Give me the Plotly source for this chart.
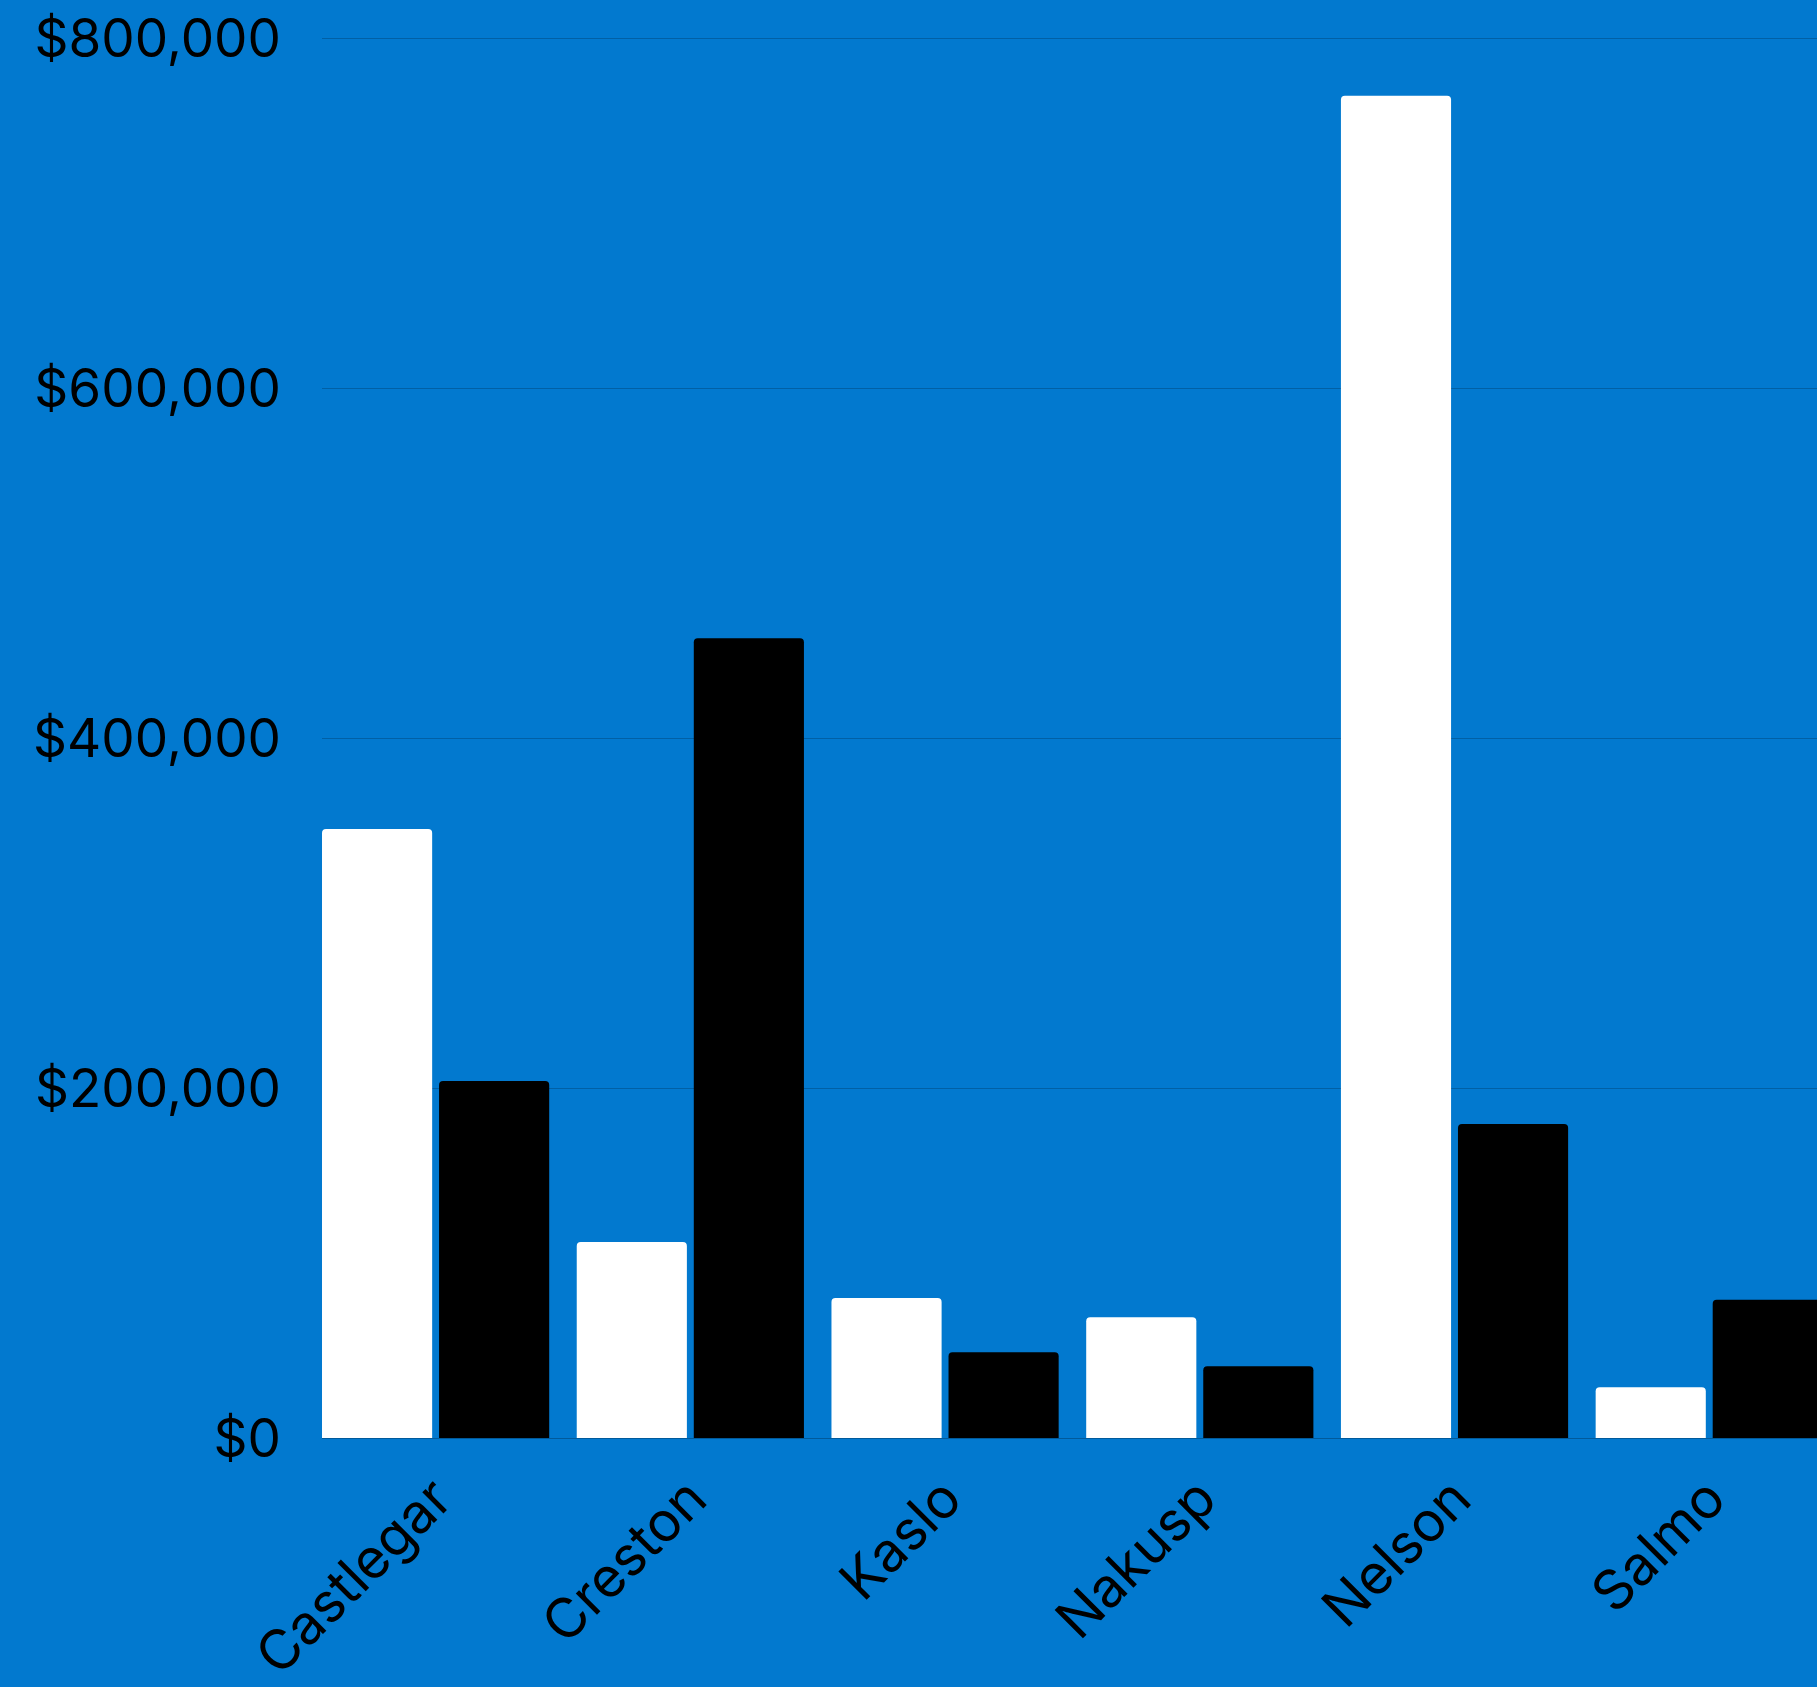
import plotly.graph_objects as go

categories = ["Castlegar", "Creston", "Kaslo", "Nakusp", "Nelson", "Salmo"]
series_white = [348000, 112000, 80000, 69000, 767000, 29000]
series_black = [204000, 457000, 49000, 41000, 179500, 79000]
y_ticks = [0, 200000, 400000, 600000, 800000]
y_tick_labels = ["$0", "$200,000", "$400,000", "$600,000", "$800,000"]

BG = "#0279CF"
FONT = "Inter"

fig = go.Figure()
fig.add_trace(go.Bar(x=categories, y=series_white, name="Series A",
                     marker=dict(color="#FFFFFF", cornerradius=4, line=dict(width=0))))
fig.add_trace(go.Bar(x=categories, y=series_black, name="Series B",
                     marker=dict(color="#000000", cornerradius=4, line=dict(width=0))))

fig.update_layout(
    width=1817, height=1687, autosize=False,
    margin=dict(l=322, r=0, t=30, b=249, pad=0),
    paper_bgcolor=BG, plot_bgcolor=BG,
    barmode="group", bargap=0.081, bargroupgap=0.059,
    showlegend=False,
    font=dict(family=FONT, color="#000000", size=52),
)
fig.update_xaxes(
    range=[-0.446, 5.423], tickangle=-45, showgrid=False, showline=False,
    zeroline=False, ticks="", ticklabelstandoff=16,
    tickfont=dict(family=FONT, size=55, color="#000000"),
)
fig.update_yaxes(
    range=[0, 804600], tickmode="array", tickvals=y_ticks, ticktext=y_tick_labels,
    showgrid=True, gridcolor="rgba(0,0,0,0.2)", gridwidth=1,
    zeroline=True, zerolinecolor="rgba(0,0,0,0.25)", zerolinewidth=1,
    showline=False, ticks="", ticklabelstandoff=40,
    tickfont=dict(family=FONT, size=53, color="#000000"),
)

fig.write_html("out.html")
